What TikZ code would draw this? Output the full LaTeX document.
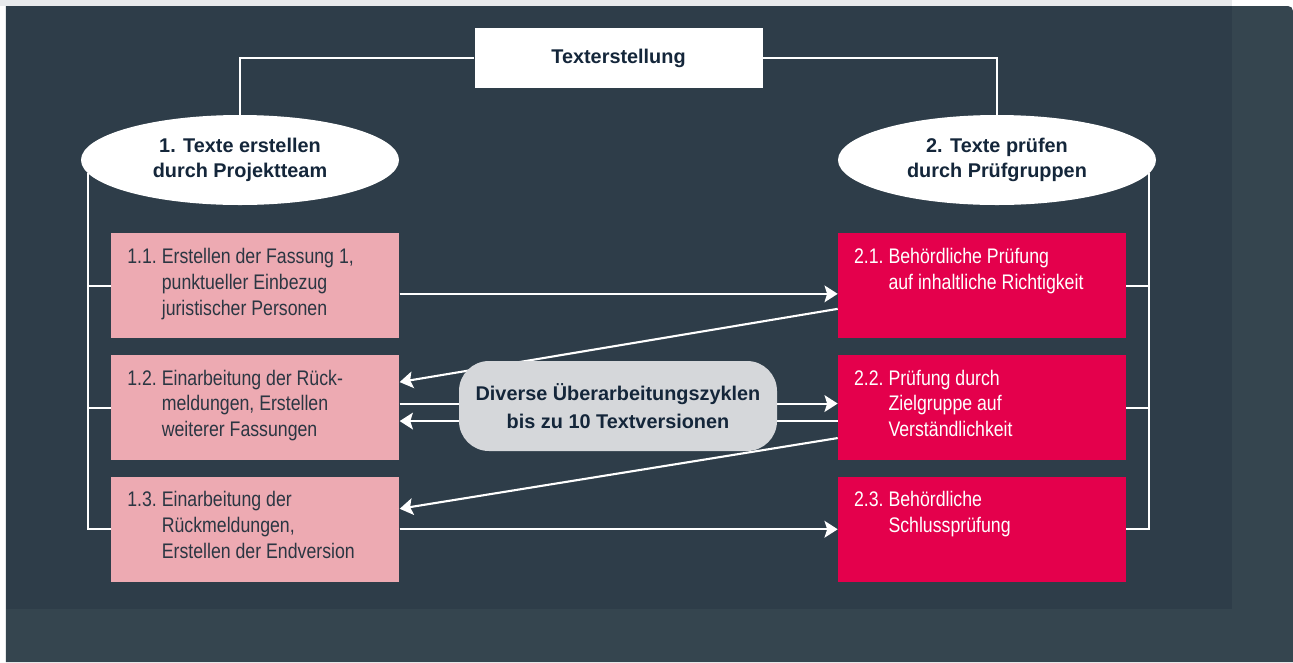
\documentclass[tikz,border=0pt]{standalone}
\usepackage{fontspec}
\setmainfont{Liberation Sans}
\newfontfamily\condfont{Liberation Sans}[FakeStretch=0.84]
\usepackage{tikz}
\usetikzlibrary{arrows.meta}
\usetikzlibrary{shapes.geometric}
\usetikzlibrary{positioning}
\definecolor{bgdark}{HTML}{2E3D49}
\definecolor{bgouter}{HTML}{35454F}
\definecolor{bgstrip}{HTML}{E8EAEC}
\definecolor{pinkbox}{HTML}{EDAAB2}
\definecolor{redbox}{HTML}{E4004C}
\definecolor{cyclegray}{HTML}{D5D7DA}
\definecolor{navytext}{HTML}{14263A}
\definecolor{darktext}{HTML}{2B3642}
\newcommand{\steptext}[2]{\parbox[c][1.62cm][t]{5.12cm}{\begin{tabular}[t]{@{}l@{\ }l@{}}#1 & \begin{tabular}[t]{@{}l@{}}#2\end{tabular}\end{tabular}}}

\begin{document}
\begin{tikzpicture}
\tikzset{
  headbox/.style={fill=white, minimum width=5.76cm, minimum height=1.2cm,
    inner sep=0pt, text=navytext,
    font=\bfseries\fontsize{11.3}{14}\selectfont},
  phase/.style={ellipse, fill=white, minimum width=6.36cm, minimum height=1.8cm,
    inner sep=0pt, align=center, text=navytext,
    font=\bfseries\fontsize{11.3}{14.4}\selectfont},
  stepbox/.style={fill=#1, minimum width=5.76cm, minimum height=2.1cm,
    inner xsep=0.32cm, inner ysep=0.24cm, anchor=north west,
    font=\condfont\fontsize{12}{14.7}\selectfont},
  leftstep/.style={stepbox=pinkbox, text=darktext},
  rightstep/.style={stepbox=redbox, text=white},
  cyclebox/.style={fill=cyclegray, rounded corners=0.6cm, minimum width=6.36cm,
    minimum height=1.8cm, inner sep=0pt, align=center, text=navytext,
    font=\bfseries\fontsize{11.3}{15.6}\selectfont},
  wire/.style={draw=white, line width=1.1pt},
  flow/.style={draw=white, line width=1.2pt,
    -{Stealth[length=7.5pt,width=9.5pt,inset=1.5pt]}}
}
\useasboundingbox (0,0) rectangle (25.86,-13.24);
% background
\fill[white] (0,0) rectangle (25.86,-13.24);
\fill[bgstrip] (0,0) rectangle (24.64,-0.12);
\fill[bgouter] (0.12,-13.24) -- (0.12,-0.12) [rounded corners=0.1cm] -- (25.86,-0.12)
  [sharp corners] -- (25.86,-13.24) -- cycle;
\fill[bgdark] (0.12,-0.12) rectangle (24.64,-12.18);

% phases
\node[headbox] (head) at (12.37,-1.16) {Texterstellung};
\node[phase] (ph1) at (4.8,-3.2) {1. Texte erstellen\\durch Projektteam};
\node[phase] (ph2) at (19.94,-3.2) {2. Texte prüfen\\durch Prüfgruppen};

% steps
\node[leftstep] (s11) at (2.22,-4.66)
  {\steptext{1.1.}{Erstellen der Fassung 1,\\punktueller Einbezug\\juristischer Personen}};
\node[leftstep, below=0.32cm of s11] (s12)
  {\steptext{1.2.}{Einarbeitung der Rück-\\meldungen, Erstellen\\weiterer Fassungen}};
\node[leftstep, below=0.32cm of s12] (s13)
  {\steptext{1.3.}{Einarbeitung der\\Rückmeldungen,\\Erstellen der Endversion}};
\node[rightstep, right=8.76cm of s11] (s21)
  {\steptext{2.1.}{Behördliche Prüfung\\auf inhaltliche Richtigkeit}};
\node[rightstep, below=0.32cm of s21] (s22)
  {\steptext{2.2.}{Prüfung durch\\Zielgruppe auf\\Verständlichkeit}};
\node[rightstep, below=0.32cm of s22] (s23)
  {\steptext{2.3.}{Behördliche\\Schlussprüfung}};

% tree lines
\draw[wire] (head.west) -| (ph1.north);
\draw[wire] (head.east) -| (ph2.north);
\draw[wire] (ph1.185) |- (s13.west);
\draw[wire] (s11.west) -- (s11.west -| ph1.185);
\draw[wire] (s12.west) -- (s12.west -| ph1.185);
\draw[wire] (ph2.-5) |- (s23.east);
\draw[wire] (s21.east) -- (s21.east -| ph2.-5);
\draw[wire] (s22.east) -- (s22.east -| ph2.-5);

% cycles
\draw[flow] ([yshift=-0.16cm]s11.east) -- ([yshift=-0.16cm]s21.west);
\draw[flow] ([yshift=-0.46cm]s21.west) -- ([yshift=0.51cm]s12.east);
\draw[flow] ([yshift=0.08cm]s12.east) -- ([yshift=0.08cm]s22.west);
\draw[flow] ([yshift=-0.27cm]s22.west) -- ([yshift=-0.27cm]s12.east);
\draw[flow] ([yshift=-0.61cm]s22.west) -- ([yshift=0.41cm]s13.east);
\draw[flow] (s13.east) -- (s23.west);

\node[cyclebox] (cyc) at (12.36,-8.12) {Diverse Überarbeitungszyklen\\bis zu 10 Textversionen};
\end{tikzpicture}
\end{document}
